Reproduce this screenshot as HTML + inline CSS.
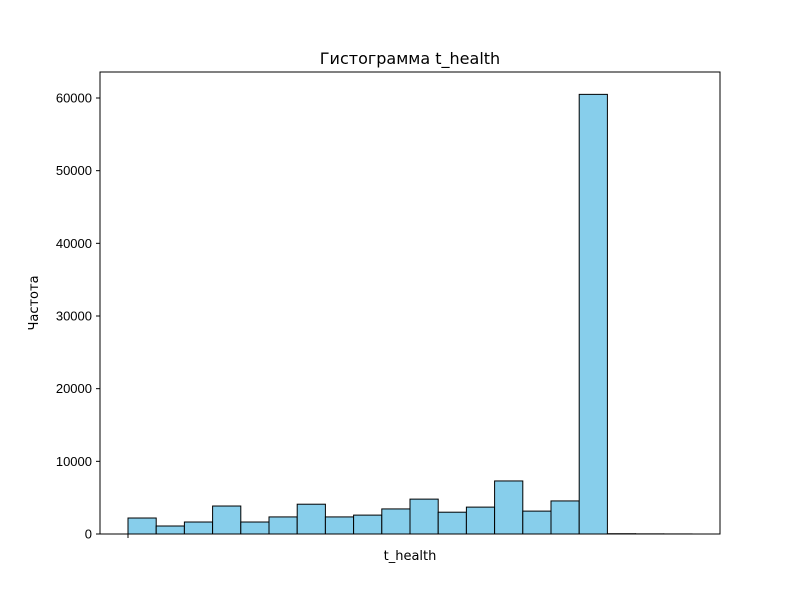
<!DOCTYPE html>
<html><head><meta charset="utf-8"><style>
body{margin:0;background:#fff;}
svg text{font-family:"Liberation Sans","DejaVu Sans",sans-serif;}
svg text.dv{font-family:"DejaVu Sans","Liberation Sans",sans-serif;}
</style></head><body>
<svg id="chart" width="800" height="600" viewBox="0 0 800 600">
<rect x="0" y="0" width="800" height="600" fill="#fff"/>
<g id="bars"></g>
<g id="yticks"></g>
<rect x="100" y="72" width="620" height="462" fill="none" stroke="#000" stroke-width="1"/>
<line x1="128" y1="534" x2="128" y2="538" stroke="#000"/>
<text class="dv" x="410" y="64" font-size="16" text-anchor="middle">Гистограмма t_health</text>
<text class="dv" x="410" y="560" font-size="13" text-anchor="middle">t_health</text>
<text class="dv" x="38" y="303" font-size="13" text-anchor="middle" transform="rotate(-90 38 303)">Частота</text>
</svg>
<script>
const counts=[2200,1100,1650,3850,1650,2350,4100,2350,2600,3450,4800,3000,3700,7300,3150,4550,60500,40,20,10];
const yTicks=[0,10000,20000,30000,40000,50000,60000];
const x0=128,x1=692,yBase=534,pxPer=436/60000;
const bw=(x1-x0)/counts.length;
const ys=v=>yBase-v*pxPer;
const ns="http://www.w3.org/2000/svg";
const bg=document.getElementById('bars');
counts.forEach((c,i)=>{
 const r=document.createElementNS(ns,'rect');
 r.setAttribute('x',x0+i*bw);r.setAttribute('y',ys(c));
 r.setAttribute('width',bw);r.setAttribute('height',yBase-ys(c));
 r.setAttribute('fill','#87ceeb');r.setAttribute('stroke','#000');r.setAttribute('stroke-width','1');
 
 
 bg.appendChild(r);
});
const yg=document.getElementById('yticks');
yTicks.forEach(v=>{
 const y=ys(v);
 const l=document.createElementNS(ns,'line');
 l.setAttribute('x1',96);l.setAttribute('x2',100);l.setAttribute('y1',y);l.setAttribute('y2',y);l.setAttribute('stroke','#000');
 
 
 yg.appendChild(l);
 const t=document.createElementNS(ns,'text');
 t.setAttribute('x',92);t.setAttribute('y',y+4.5);t.setAttribute('font-size','13');t.setAttribute('text-anchor','end');
 t.textContent=v;
 
 
 yg.appendChild(t);
});
</script>
</body></html>
